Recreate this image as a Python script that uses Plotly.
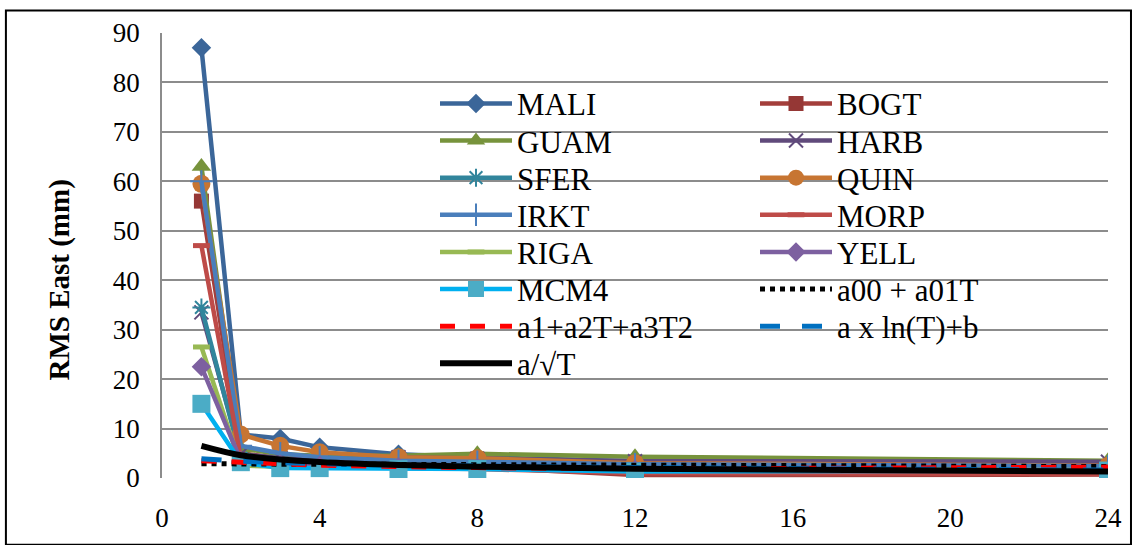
import plotly.graph_objects as go

# Averaging period T (hours) on the x axis
periods = [1, 2, 3, 4, 6, 8, 12, 24]

# RMS East (mm) per station
mali = [87.0, 8.8, 8.0, 6.2, 4.8, 4.2, 3.4, 2.8]
bogt = [56.0, 5.0, 4.0, 3.4, 2.5, 2.2, 0.6, 0.7]
guam = [63.0, 6.0, 4.8, 4.5, 4.5, 4.9, 4.3, 3.5]
harb = [33.5, 4.8, 4.0, 3.6, 4.2, 3.9, 3.4, 3.3]
sfer = [34.5, 4.0, 3.0, 2.8, 2.6, 2.4, 2.2, 2.0]
quin = [59.5, 8.8, 6.5, 5.2, 4.2, 4.0, 3.0, 2.5]
irkt = [60.0, 6.5, 5.0, 4.2, 3.5, 3.3, 2.8, 2.4]
morp = [47.0, 4.0, 3.2, 2.5, 2.0, 1.8, 1.0, 0.8]
riga = [26.5, 2.5, 2.3, 2.2, 2.0, 2.0, 1.8, 1.6]
yell = [22.5, 3.5, 2.8, 2.5, 2.2, 2.0, 1.7, 1.5]
mcm4 = [15.0, 3.2, 2.0, 2.0, 1.8, 1.8, 1.3, 1.5]

# Fitted models
fit_linear = [2.9, 2.85, 2.8, 2.8, 2.75, 2.7, 2.6, 2.3]
fit_quad = [3.5, 3.2, 2.9, 2.6, 2.3, 2.1, 1.9, 2.2]
fit_log = [3.9, 3.4, 3.1, 2.9, 2.6, 2.4, 2.1, 1.6]
fit_sqrt = [6.5, 4.6, 3.75, 3.25, 2.65, 2.3, 1.88, 1.33]

x_ticks = [0, 4, 8, 12, 16, 20, 24]
y_ticks = [0, 10, 20, 30, 40, 50, 60, 70, 80, 90]

FONT = "'Liberation Serif', 'Times New Roman', Times, serif"

stations = [
    ("MALI", mali, "#3B6699", dict(symbol="diamond", size=15, color="#3B6699")),
    ("BOGT", bogt, "#A33E3B", dict(symbol="square", size=15, color="#953735")),
    ("GUAM", guam, "#77933C", dict(symbol="triangle-up", size=17, color="#77933C")),
    ("HARB", harb, "#604A7B", dict(symbol="x-thin", size=14, color="#604A7B",
                                   line=dict(width=2, color="#604A7B"))),
    ("SFER", sfer, "#31859C", dict(symbol="asterisk", size=15, color="#31859C",
                                   line=dict(width=2, color="#31859C"))),
    ("QUIN", quin, "#C77532", dict(symbol="circle", size=18, color="#C77532")),
    ("IRKT", irkt, "#4A7EBB", dict(symbol="cross-thin", size=16, color="#4A7EBB",
                                   line=dict(width=2, color="#4A7EBB"))),
    ("MORP", morp, "#BE4B48", dict(symbol="line-ew", size=12, color="#BE4B48",
                                   line=dict(width=5, color="#BE4B48"))),
    ("RIGA", riga, "#98B954", dict(symbol="line-ew", size=12, color="#98B954",
                                   line=dict(width=5, color="#98B954"))),
    ("YELL", yell, "#7D60A0", dict(symbol="diamond", size=15, color="#7D60A0")),
    ("MCM4", mcm4, "#00B0F0", dict(symbol="square", size=18, color="#4BACC6")),
]

fits = [
    ("a00 + a01T", fit_linear, dict(color="#000000", width=5, dash="dot")),
    ("a1+a2T+a3T2", fit_quad, dict(color="#FF0000", width=5, dash="dash")),
    ("a x ln(T)+b", fit_log, dict(color="#0070C0", width=5, dash="20px,22px")),
    ("a/\u221aT", fit_sqrt, dict(color="#000000", width=6)),
]

# Legend grid: two columns, entries filled row by row
PLOT_L, PLOT_W, PLOT_B, PLOT_H = 162, 946, 486, 453
COL_X = [435, 755]
ROW_Y0, ROW_DY = 105, 37.8


def legend_id(i):
    return "legend" if i == 0 else f"legend{i + 1}"


fig = go.Figure()

idx = 0
for name, vals, col, mk in stations:
    fig.add_trace(go.Scatter(
        x=periods, y=vals, name=name, mode="lines+markers",
        line=dict(color=col, width=4.5), marker=mk, legend=legend_id(idx),
    ))
    idx += 1

for name, vals, ln in fits:
    fig.add_trace(go.Scatter(
        x=periods, y=vals, name=name, mode="lines",
        line=dict(shape="spline", **ln), legend=legend_id(idx),
    ))
    idx += 1

legends = {}
for i in range(idx):
    row, col = divmod(i, 2)
    legends[legend_id(i)] = dict(
        x=(COL_X[col] - PLOT_L) / PLOT_W,
        y=(PLOT_B - (ROW_Y0 + row * ROW_DY)) / PLOT_H,
        xanchor="left", yanchor="middle",
        bgcolor="rgba(0,0,0,0)", borderwidth=0,
        itemwidth=72, font=dict(family=FONT, size=31, color="black"),
    )

# Outer frame around the whole chart
fig.add_shape(type="rect", xref="paper", yref="paper",
              x0=-0.165, x1=1.0243, y0=-0.15, y1=1.0508,
              line=dict(color="black", width=2), layer="above")

# Y axis title
fig.add_annotation(
    text="<b>RMS East (mm)</b>", textangle=-90, showarrow=False,
    xref="paper", yref="paper", x=(60 - PLOT_L) / PLOT_W,
    y=(PLOT_B - 285) / PLOT_H, xanchor="center", yanchor="middle",
    font=dict(family=FONT, size=29, color="black"),
)

fig.update_layout(
    width=1137, height=545,
    margin=dict(l=162, r=29, t=33, b=59),
    paper_bgcolor="white", plot_bgcolor="white",
    font=dict(family=FONT, size=27, color="black"),
    showlegend=True,
    xaxis=dict(
        range=[0, 24], tickvals=x_ticks, showgrid=False, zeroline=False,
        showline=False, ticks="outside", ticklen=16, tickcolor="white",
        tickfont=dict(family=FONT, size=27),
    ),
    yaxis=dict(
        range=[0, 90], tickvals=y_ticks, showgrid=True, gridcolor="#8C8C8C",
        gridwidth=1.5, zeroline=False, showline=True, linecolor="#8C8C8C",
        linewidth=1.5, ticks="outside", ticklen=15, tickcolor="white",
        tickfont=dict(family=FONT, size=27),
    ),
    **legends,
)

fig.write_html("out.html")
